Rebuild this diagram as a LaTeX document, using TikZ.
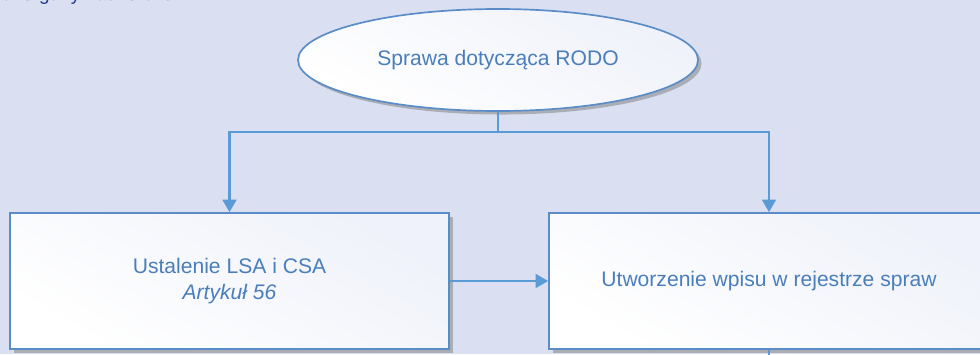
\documentclass[tikz,border=0pt]{standalone}
\usepackage{fontspec}
\setmainfont{Liberation Sans}
\usetikzlibrary{shapes.geometric,shadows,arrows.meta}

\definecolor{pagebg}{HTML}{DAE0F2}
\definecolor{flowline}{HTML}{5B9BD5}
\definecolor{flowedge}{HTML}{5A8DC8}
\definecolor{flowtext}{HTML}{4A7EBB}
\definecolor{titletext}{HTML}{1F3A8A}
\definecolor{boxtint}{HTML}{E8ECF8}

\tikzset{
  flowbox/.style={draw=flowedge, line width=1.2pt, shading=axis,
    top color=boxtint!70!white, bottom color=white, shading angle=-30,
    drop shadow={shadow xshift=2.5pt, shadow yshift=-2.5pt, fill=black!45, opacity=.6},
    text=flowtext, font=\fontsize{15}{18.5}\selectfont, align=center},
  conn/.style={draw=flowline, line width=1.5pt},
  arr/.style={conn, -{Triangle[width=10pt,length=9pt]}}
}

\begin{document}
\begin{tikzpicture}
  \fill[pagebg] (0,0) rectangle (24.5,8.85);
  \useasboundingbox (0,0) rectangle (24.5,8.85);

  \begin{scope}
    \clip (0,0) rectangle (24.5,8.85);
    \node[anchor=base west, text=titletext, font=\fontsize{13.5}{16}\selectfont, inner sep=0pt] (title) at (0.05,8.85) {ał organy nadzorcze};

    \node[flowbox, ellipse, minimum width=10cm, minimum height=2.55cm] (case) at (12.45,7.35) {Sprawa dotycząca RODO};

    \node[flowbox, rectangle, minimum width=10.975cm, minimum height=3.4cm] (lsa) at (5.7375,1.825) {Ustalenie LSA i CSA\\\textit{Artykuł 56}};
    \node[flowbox, rectangle, minimum width=11cm, minimum height=3.4cm] (reg) at (19.225,1.825) {Utworzenie wpisu w rejestrze spraw};

    \coordinate (split) at (12.45,5.55);
    \coordinate (down) at (19.225,-0.3);

    \draw[conn] (case.south) -- (split);
    \draw[arr] (split) -| (lsa.north);
    \draw[arr] (split) -| (reg.north);
    \draw[arr] (lsa.east) -- (reg.west);
    \draw[conn] (reg.south) -- (down);
  \end{scope}
\end{tikzpicture}
\end{document}
